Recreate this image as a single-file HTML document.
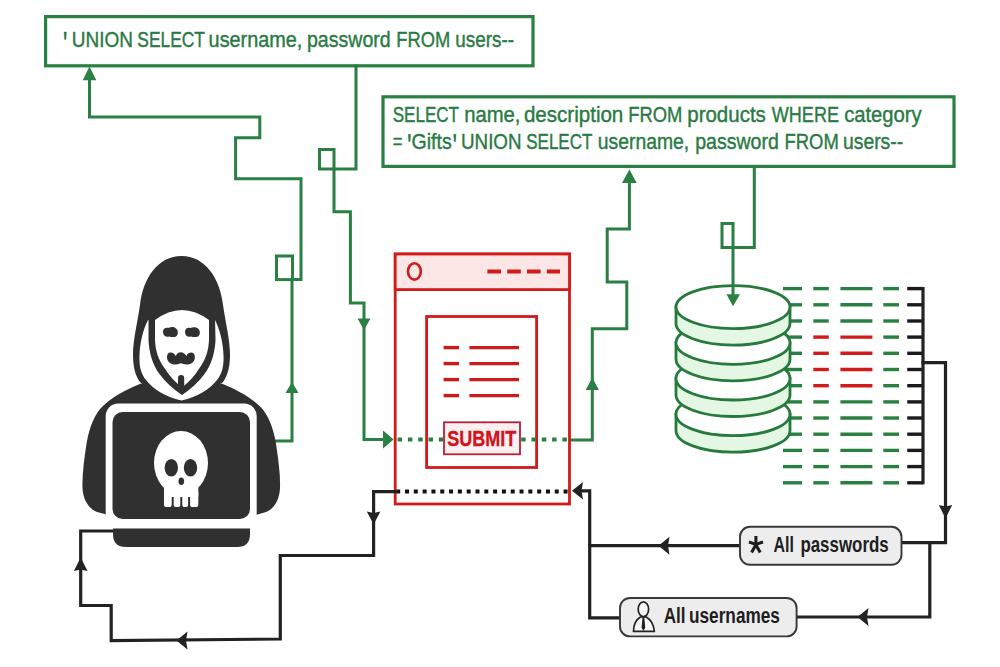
<!DOCTYPE html>
<html><head><meta charset="utf-8">
<style>
html,body{margin:0;padding:0;background:#fff;width:1000px;height:667px;overflow:hidden}
svg{display:block}
text{font-family:"Liberation Sans",sans-serif}
</style></head>
<body>
<svg width="1000" height="667" viewBox="0 0 1000 667">

<!-- ========== GREEN BOXES ========== -->
<g fill="none" stroke="#2a7f42" stroke-width="3.2">
  <rect x="45.6" y="16.6" width="487.4" height="49.2"/>
  <rect x="383" y="96.8" width="571" height="69.6"/>
</g>
<g fill="#2a7a44" stroke="#2a7a44" stroke-width="0.4">
<polygon points="64.1,32 66.4,32 65.9,39.5 64.6,39.5"/>
<polygon points="408.3,134.3 410.6,134.3 410.1,141.5 408.8,141.5"/>
<polygon points="453.7,134.3 456,134.3 455.5,141.5 454.2,141.5"/>
<text x="71.83" y="47" font-size="22" textLength="61.13" lengthAdjust="spacingAndGlyphs">UNION</text>
<text x="137.32" y="47" font-size="22" textLength="67.68" lengthAdjust="spacingAndGlyphs">SELECT</text>
<text x="208.61" y="47" font-size="22" textLength="93.67" lengthAdjust="spacingAndGlyphs">username,</text>
<text x="306.93" y="47" font-size="22" textLength="83.74" lengthAdjust="spacingAndGlyphs">password</text>
<text x="396.29" y="47" font-size="22" textLength="53.95" lengthAdjust="spacingAndGlyphs">FROM</text>
<text x="455.17" y="47" font-size="22" textLength="58.86" lengthAdjust="spacingAndGlyphs">users--</text>
<text x="392.73" y="122" font-size="22" textLength="66.25" lengthAdjust="spacingAndGlyphs">SELECT</text>
<text x="464.23" y="122" font-size="22" textLength="56.28" lengthAdjust="spacingAndGlyphs">name,</text>
<text x="523.93" y="122" font-size="22" textLength="99.38" lengthAdjust="spacingAndGlyphs">description</text>
<text x="628.28" y="122" font-size="22" textLength="54.16" lengthAdjust="spacingAndGlyphs">FROM</text>
<text x="687.27" y="122" font-size="22" textLength="78.56" lengthAdjust="spacingAndGlyphs">products</text>
<text x="771.81" y="122" font-size="22" textLength="67.15" lengthAdjust="spacingAndGlyphs">WHERE</text>
<text x="844.14" y="122" font-size="22" textLength="77.52" lengthAdjust="spacingAndGlyphs">category</text>
<text x="392.81" y="148.8" font-size="22" textLength="9.70" lengthAdjust="spacingAndGlyphs">=</text>
<text x="411.52" y="148.8" font-size="22" textLength="40.18" lengthAdjust="spacingAndGlyphs">Gifts</text>
<text x="461.04" y="148.8" font-size="22" textLength="60.50" lengthAdjust="spacingAndGlyphs">UNION</text>
<text x="526.23" y="148.8" font-size="22" textLength="66.15" lengthAdjust="spacingAndGlyphs">SELECT</text>
<text x="597.74" y="148.8" font-size="22" textLength="91.50" lengthAdjust="spacingAndGlyphs">username,</text>
<text x="695.23" y="148.8" font-size="22" textLength="83.54" lengthAdjust="spacingAndGlyphs">password</text>
<text x="784.48" y="148.8" font-size="22" textLength="54.27" lengthAdjust="spacingAndGlyphs">FROM</text>
<text x="842.94" y="148.8" font-size="22" textLength="60.21" lengthAdjust="spacingAndGlyphs">users--</text>
</g>

<!-- ========== DATABASE ========== -->
<g id="db">
<g stroke-width="3.4">
<line x1="783" y1="288.6" x2="802" y2="288.6" stroke="#2a7f42"/>
<line x1="813.3" y1="288.6" x2="828.8" y2="288.6" stroke="#2a7f42"/>
<line x1="840.4" y1="288.6" x2="872.4" y2="288.6" stroke="#2a7f42"/>
<line x1="883.3" y1="288.6" x2="899" y2="288.6" stroke="#2a7f42"/>
<line x1="907.2" y1="288.6" x2="923" y2="288.6" stroke="#1a1a1a"/>
<line x1="783" y1="304.8" x2="802" y2="304.8" stroke="#2a7f42"/>
<line x1="813.3" y1="304.8" x2="828.8" y2="304.8" stroke="#2a7f42"/>
<line x1="840.4" y1="304.8" x2="872.4" y2="304.8" stroke="#2a7f42"/>
<line x1="883.3" y1="304.8" x2="899" y2="304.8" stroke="#2a7f42"/>
<line x1="907.2" y1="304.8" x2="923" y2="304.8" stroke="#1a1a1a"/>
<line x1="783" y1="321.0" x2="802" y2="321.0" stroke="#2a7f42"/>
<line x1="813.3" y1="321.0" x2="828.8" y2="321.0" stroke="#2a7f42"/>
<line x1="840.4" y1="321.0" x2="872.4" y2="321.0" stroke="#2a7f42"/>
<line x1="883.3" y1="321.0" x2="899" y2="321.0" stroke="#2a7f42"/>
<line x1="907.2" y1="321.0" x2="923" y2="321.0" stroke="#1a1a1a"/>
<line x1="783" y1="337.1" x2="802" y2="337.1" stroke="#2a7f42"/>
<line x1="813.3" y1="337.1" x2="828.8" y2="337.1" stroke="#d11a1a"/>
<line x1="840.4" y1="337.1" x2="872.4" y2="337.1" stroke="#d11a1a"/>
<line x1="883.3" y1="337.1" x2="899" y2="337.1" stroke="#2a7f42"/>
<line x1="907.2" y1="337.1" x2="923" y2="337.1" stroke="#1a1a1a"/>
<line x1="783" y1="353.3" x2="802" y2="353.3" stroke="#2a7f42"/>
<line x1="813.3" y1="353.3" x2="828.8" y2="353.3" stroke="#d11a1a"/>
<line x1="840.4" y1="353.3" x2="872.4" y2="353.3" stroke="#d11a1a"/>
<line x1="883.3" y1="353.3" x2="899" y2="353.3" stroke="#2a7f42"/>
<line x1="907.2" y1="353.3" x2="923" y2="353.3" stroke="#1a1a1a"/>
<line x1="783" y1="369.5" x2="802" y2="369.5" stroke="#2a7f42"/>
<line x1="813.3" y1="369.5" x2="828.8" y2="369.5" stroke="#d11a1a"/>
<line x1="840.4" y1="369.5" x2="872.4" y2="369.5" stroke="#d11a1a"/>
<line x1="883.3" y1="369.5" x2="899" y2="369.5" stroke="#2a7f42"/>
<line x1="907.2" y1="369.5" x2="923" y2="369.5" stroke="#1a1a1a"/>
<line x1="783" y1="385.7" x2="802" y2="385.7" stroke="#2a7f42"/>
<line x1="813.3" y1="385.7" x2="828.8" y2="385.7" stroke="#d11a1a"/>
<line x1="840.4" y1="385.7" x2="872.4" y2="385.7" stroke="#d11a1a"/>
<line x1="883.3" y1="385.7" x2="899" y2="385.7" stroke="#2a7f42"/>
<line x1="907.2" y1="385.7" x2="923" y2="385.7" stroke="#1a1a1a"/>
<line x1="783" y1="401.9" x2="802" y2="401.9" stroke="#2a7f42"/>
<line x1="813.3" y1="401.9" x2="828.8" y2="401.9" stroke="#2a7f42"/>
<line x1="840.4" y1="401.9" x2="872.4" y2="401.9" stroke="#2a7f42"/>
<line x1="883.3" y1="401.9" x2="899" y2="401.9" stroke="#2a7f42"/>
<line x1="907.2" y1="401.9" x2="923" y2="401.9" stroke="#1a1a1a"/>
<line x1="783" y1="418.0" x2="802" y2="418.0" stroke="#2a7f42"/>
<line x1="813.3" y1="418.0" x2="828.8" y2="418.0" stroke="#2a7f42"/>
<line x1="840.4" y1="418.0" x2="872.4" y2="418.0" stroke="#2a7f42"/>
<line x1="883.3" y1="418.0" x2="899" y2="418.0" stroke="#2a7f42"/>
<line x1="907.2" y1="418.0" x2="923" y2="418.0" stroke="#1a1a1a"/>
<line x1="783" y1="434.2" x2="802" y2="434.2" stroke="#2a7f42"/>
<line x1="813.3" y1="434.2" x2="828.8" y2="434.2" stroke="#2a7f42"/>
<line x1="840.4" y1="434.2" x2="872.4" y2="434.2" stroke="#2a7f42"/>
<line x1="883.3" y1="434.2" x2="899" y2="434.2" stroke="#2a7f42"/>
<line x1="907.2" y1="434.2" x2="923" y2="434.2" stroke="#1a1a1a"/>
<line x1="783" y1="450.4" x2="802" y2="450.4" stroke="#2a7f42"/>
<line x1="813.3" y1="450.4" x2="828.8" y2="450.4" stroke="#2a7f42"/>
<line x1="840.4" y1="450.4" x2="872.4" y2="450.4" stroke="#2a7f42"/>
<line x1="883.3" y1="450.4" x2="899" y2="450.4" stroke="#2a7f42"/>
<line x1="907.2" y1="450.4" x2="923" y2="450.4" stroke="#1a1a1a"/>
<line x1="783" y1="466.6" x2="802" y2="466.6" stroke="#2a7f42"/>
<line x1="813.3" y1="466.6" x2="828.8" y2="466.6" stroke="#2a7f42"/>
<line x1="840.4" y1="466.6" x2="872.4" y2="466.6" stroke="#2a7f42"/>
<line x1="883.3" y1="466.6" x2="899" y2="466.6" stroke="#2a7f42"/>
<line x1="907.2" y1="466.6" x2="923" y2="466.6" stroke="#1a1a1a"/>
<line x1="783" y1="482.8" x2="802" y2="482.8" stroke="#2a7f42"/>
<line x1="813.3" y1="482.8" x2="828.8" y2="482.8" stroke="#2a7f42"/>
<line x1="840.4" y1="482.8" x2="872.4" y2="482.8" stroke="#2a7f42"/>
<line x1="883.3" y1="482.8" x2="899" y2="482.8" stroke="#2a7f42"/>
<line x1="907.2" y1="482.8" x2="923" y2="482.8" stroke="#1a1a1a"/>
</g>
<g stroke="#257a3c" stroke-width="2.8" fill="#e4f6e4">
<path d="M676,414.2 L676,430.7 A57,21.5 0 0 0 790,430.7 L790,414.2 Z"/>
<ellipse cx="733" cy="414.2" rx="57" ry="21.5" fill="#fff"/>
<path d="M676,378.5 L676,395.0 A57,21.5 0 0 0 790,395.0 L790,378.5 Z"/>
<ellipse cx="733" cy="378.5" rx="57" ry="21.5" fill="#fff"/>
<path d="M676,342.8 L676,359.3 A57,21.5 0 0 0 790,359.3 L790,342.8 Z"/>
<ellipse cx="733" cy="342.8" rx="57" ry="21.5" fill="#fff"/>
<path d="M676,307.1 L676,323.6 A57,21.5 0 0 0 790,323.6 L790,307.1 Z"/>
<ellipse cx="733" cy="307.1" rx="57" ry="21.5" fill="#fff"/>
</g>
</g>

<!-- ========== GREEN PATHS ========== -->
<g fill="none" stroke="#2a7f42" stroke-width="3" stroke-linejoin="miter" stroke-linecap="square">
  <!-- hacker -> top box -->
  <polyline points="274,441 292,441 292,279.6 301,279.6 301,178.7 235.6,178.7 235.6,137.7 259.8,137.7 259.8,117 89.5,117 89.5,78"/>
  <rect x="276.5" y="256" width="16" height="23.6"/>
  <!-- top box -> browser -->
  <polyline points="356,66 356,169 334,169 334,211.7 350.4,211.7 350.4,303 364,303 364,439.5 384,439.5"/>
  <rect x="319.5" y="149.5" width="14.5" height="19.5"/>
  <!-- browser -> box2 -->
  <polyline points="570,440 592.3,440 592.3,328.8 626.8,328.8 626.8,282 607.2,282 607.2,229 629.4,229 629.4,182"/>
  <!-- box2 -> db -->
  <polyline points="754.3,167 754.3,247.5 733,247.5 733,296"/>
  <rect x="722" y="223.5" width="11" height="24"/>
</g>
<g fill="#2a7f42">
  <polygon points="89.5,66.5 82.7,80.3 96.3,80.3"/>
  <polygon points="292,382 285.5,393 298.5,393"/>
  <polygon points="364,330 357.5,318.5 370.5,318.5"/>
  <polygon points="393.6,439.5 383,430.5 383,448.5"/>
  <polygon points="592.3,377.8 585.6,390 599,390"/>
  <polygon points="629.4,169.5 622,183 636.7,183"/>
  <polygon points="733,306.3 726.5,294.3 740,294.3"/>
</g>

<!-- ========== BROWSER ========== -->
<g fill="none" stroke="#d11a1a" stroke-width="2.8">
  <rect x="395.2" y="254" width="174.3" height="250" fill="#fff"/>
  <rect x="395.2" y="254" width="174.3" height="35.6" fill="#fde6e6"/>
  <ellipse cx="414.4" cy="271.4" rx="6.4" ry="8.2" stroke-width="2.6"/>
  <rect x="426.6" y="316.5" width="110" height="151"/>
</g>
<g stroke="#d11a1a" stroke-width="4" fill="none">
  <line x1="487.4" y1="271.4" x2="560" y2="271.4" stroke-dasharray="13.6 6.2"/>
</g>
<g stroke="#d11a1a" stroke-width="3.4">
  <line x1="443.6" y1="347.6" x2="459" y2="347.6"/><line x1="469.4" y1="347.6" x2="519" y2="347.6"/>
  <line x1="443.6" y1="363.6" x2="459" y2="363.6"/><line x1="469.4" y1="363.6" x2="519" y2="363.6"/>
  <line x1="443.6" y1="379.6" x2="459" y2="379.6"/><line x1="469.4" y1="379.6" x2="519" y2="379.6"/>
  <line x1="443.6" y1="395.6" x2="459" y2="395.6"/><line x1="469.4" y1="395.6" x2="519" y2="395.6"/>
</g>
<!-- dotted green through submit -->
<line x1="397.6" y1="439.6" x2="570" y2="439.6" stroke="#2a7f42" stroke-width="4" stroke-dasharray="4.5 5.8"/>
<rect x="444" y="422.3" width="76" height="32" fill="#fcefef" stroke="#b3223a" stroke-width="1.8"/>
<g fill="#d0141e" stroke="#d0141e" stroke-width="0.35"><text x="447.16" y="446" font-size="22" font-weight="bold" textLength="69.13" lengthAdjust="spacingAndGlyphs">SUBMIT</text></g>
<!-- black dotted -->
<line x1="396.2" y1="491.5" x2="568" y2="491.5" stroke="#111" stroke-width="3.9" stroke-dasharray="4 4.81"/>

<!-- ========== BLACK PATHS ========== -->
<g fill="none" stroke="#222" stroke-width="3.2" stroke-linecap="square">
  <polyline points="395,491.6 373.6,491.6 373.6,555.5 280.3,555.5 280.3,639 111.2,640.7 111.2,605.5 80.7,605.5 80.7,531 112.8,531"/>
  <polyline points="923,288.6 923,482.7"/>
  <polyline points="923,362.6 945.5,362.6 945.5,542.7 902.5,542.7"/>
  <polyline points="929.8,542.7 929.8,617 797,617"/>
  <polyline points="739,545.7 589.7,545.7 589.7,617.8 619,617.8"/>
  <polyline points="589.7,545.7 589.7,490.8 580,490.8"/>
</g>
<g fill="#222">
  <polygon points="373.6,524.5 366.8,511.5 373.6,513 380.4,511.5"/>
  <polygon points="80.7,557.5 73.9,571 80.7,569.5 87.5,571"/>
  <polygon points="176.5,640.5 187.5,631.5 186,640.5 187.5,649.5"/>
  <polygon points="572,490.8 583,482 581.5,490.8 583,499.6"/>
  <polygon points="658.5,545.7 669.5,536.7 668,545.7 669.5,554.7"/>
  <polygon points="857.5,617 868.5,608 867,617 868.5,626"/>
  <polygon points="945.5,518.5 938.8,505 945.5,506.5 952.2,505"/>
</g>

<!-- ========== PILLS ========== -->
<rect x="740" y="526.8" width="161.5" height="38" rx="10" fill="#ededed" stroke="#383838" stroke-width="1.9"/>
<rect x="620" y="598" width="176.6" height="38.4" rx="10" fill="#ededed" stroke="#383838" stroke-width="1.9"/>
<g fill="#1e1e1e">
<text x="773.50" y="552.3" font-size="22" font-weight="bold" textLength="20.42" lengthAdjust="spacingAndGlyphs">All</text>
<text x="800.40" y="552.3" font-size="22" font-weight="bold" textLength="88.31" lengthAdjust="spacingAndGlyphs">passwords</text>
<text x="663.67" y="623.4" font-size="22" font-weight="bold" textLength="21.83" lengthAdjust="spacingAndGlyphs">All</text>
<text x="689.02" y="623.4" font-size="22" font-weight="bold" textLength="90.88" lengthAdjust="spacingAndGlyphs">usernames</text>
</g>

<g id="icons">
  <g stroke="#1e1e1e" stroke-width="3.1" stroke-linecap="butt">
    <line x1="755.9" y1="536" x2="755.9" y2="544.5"/>
    <line x1="749" y1="542" x2="756" y2="544.4"/>
    <line x1="763" y1="542" x2="755.8" y2="544.4"/>
    <line x1="751.6" y1="552.6" x2="756.6" y2="543.6"/>
    <line x1="760.2" y1="552.6" x2="755.2" y2="543.6"/>
  </g>
  <g fill="#f6f6f6" stroke="#222" stroke-width="1.7">
    <path d="M633.5,631.3 C633.5,624 635.5,620 640.5,617 L646.3,617 C651.3,620 653.8,624 654.3,631.3 Z"/>
    <ellipse cx="643.4" cy="609.2" rx="5.2" ry="7.4"/>
  </g>
  <polygon points="642.5,617.5 644.3,617.5 645.2,627.5 643.4,631 641.6,627.5" fill="#1e1e1e"/>
</g>
<!-- ========== HACKER ========== -->
<g id="hacker">
  <!-- body -->
  <path fill="#303030" d="M141,383.5 C125,390 110,398 100,409 C92,419 88,433 86,447 C84,461 82,476 82.5,488 C83,500 89,509 97,512 L106.5,514.5 L257.5,514.5 L266,512 C274,509 279.5,500 280,488 C280.5,476 278.5,461 276.5,447 C274.5,433 270.5,419 262.5,409 C252.5,398 237.5,390 221.5,383.5 L182,372 Z"/>
  <!-- hood -->
  <path fill="#303030" d="M181.5,256 C158,256 143,278 140,305 C137,325 133,340 133,355 C133,368 136,378 141,383 L222,383 C227,378 230,368 230,355 C230,340 226,325 223,305 C220,278 205,256 181.5,256 Z"/>
  <!-- lining -->
  <path fill="#fff" d="M148,320 C143,330 140,342 139.5,355 C139,366 141,374 146,380 C153,389 165,397 181.5,400.5 C198,397 210,389 217,380 C222,374 224,366 223.5,355 C223,342 220,330 215,320 Z"/>
  <!-- face outline -->
  <path fill="#303030" d="M148.5,318 L148.5,340 C149,352 152.5,365 159.5,374 C165.5,382 173.5,389.5 182,395 C190.5,389.5 198.5,382 204.5,374 C211.5,365 215,352 215.5,340 L215,318 Q182,296 149,318 Z"/>
  <!-- face -->
  <path fill="#fff" d="M155,320 L155,340 C155.5,351 158.5,360 164.5,368 C169.5,376 175,382 182,387.5 C189,382 194.5,376 199.5,368 C205.5,360 208.5,351 209,340 L209,320 Q182,300 155,320 Z"/>
  <g fill="#303030">
    <path d="M163,332 C163,328 166,327.3 169,327.8 C171,326.8 174,326.8 176,328.5 C178.5,330 178.5,335 176,336.5 C173.5,337.5 171,337 169,336.5 C166,337.3 163,336 163,332 Z"/>
    <path d="M185,332 C185,328 188,327 190.5,328 C193,326.8 196,327 198,328.5 C200.5,330.5 200.5,335 198,336.5 C195.5,337.5 193,337 191,336.5 C188,337.5 185,336 185,332 Z"/>
    <path d="M167,357.7 C167,353.5 168.5,352.3 170.7,352.4 C173,352.5 175,354 175.7,356 C177,353 178.8,352.2 180.8,352.2 C183,352.2 185,353.5 186.4,356 C187.5,353.5 189.5,352.5 191.5,352.6 C194,352.8 195,355 194.9,357.7 C194.5,362 191,364.6 187,364.5 C184,364.4 182,363.6 180.8,363.3 C179.5,363.6 178,364.6 175.7,364.5 C171,364.6 167.3,362 167,357.7 Z"/>
    <rect x="178" y="375" width="6.2" height="17" rx="3"/>
  </g>
  <!-- laptop -->
  <rect x="105.7" y="403.5" width="151" height="122" rx="12.5" fill="#fff"/>
  <rect x="112.5" y="412" width="137.5" height="107" rx="10" fill="#303030"/>
  <path fill="#303030" d="M113,528.5 L250,528.5 L250,534 Q250,547 237,547 L126,547 Q113,547 113,534 Z"/>
  <!-- skull -->
  <g fill="#fff">
    <ellipse cx="181" cy="463" rx="27" ry="32"/>
    <rect x="164" y="483" width="34.3" height="14"/>
    <rect x="164" y="490" width="7.7" height="17" rx="2.6"/>
    <rect x="173.7" y="490" width="6.6" height="17" rx="2.6"/>
    <rect x="182.3" y="490" width="5.8" height="17" rx="2.6"/>
    <rect x="190.1" y="490" width="8.2" height="17" rx="2.6"/>
  </g>
  <g fill="#303030">
    <ellipse cx="171.3" cy="467.7" rx="6.7" ry="8.8"/>
    <ellipse cx="190.5" cy="467.7" rx="6.7" ry="8.8"/>
    <ellipse cx="181.3" cy="481.2" rx="2.8" ry="3.8"/>
  </g>
</g>

</svg>
</body></html>
